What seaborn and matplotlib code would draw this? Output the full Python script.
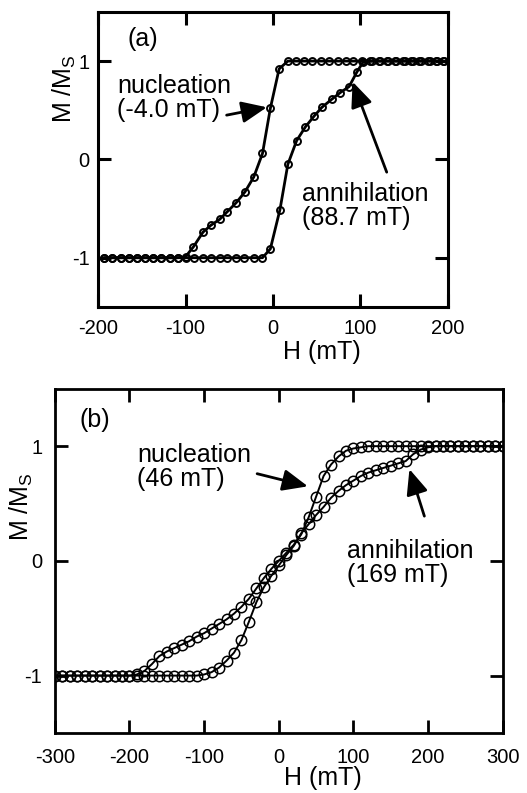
import matplotlib
matplotlib.use("Agg")
import matplotlib.pyplot as plt
import seaborn as sns
import pandas as pd

# ---------------- data: panel (a) ----------------
a_desc_H = [195, 186, 177, 167, 158, 149, 139, 130, 121, 111, 102, 92, 83, 74, 64, 55, 45, 36, 26, 17,
            7, -3, -12, -22, -32, -42, -52, -61, -71, -80, -91, -100,
            -109, -118, -128, -137, -146, -156, -165, -174, -184, -193]
a_desc_M = [1.0, 1.0, 1.0, 1.0, 1.0, 1.0, 1.0, 1.0, 1.0, 1.0, 1.0, 1.0, 1.0, 1.0, 1.0, 1.0, 1.0, 1.0, 1.0, 1.0,
            0.92, 0.52, 0.06, -0.18, -0.33, -0.44, -0.53, -0.61, -0.67, -0.74, -0.89, -0.99,
            -1.0, -1.0, -1.0, -1.0, -1.0, -1.0, -1.0, -1.0, -1.0, -1.0]
a_asc_H = [-193, -184, -174, -165, -156, -146, -137, -128, -118, -109, -99, -90, -80, -71, -61, -52, -42, -33, -22, -12,
           -3, 8, 17, 27, 37, 47, 56, 67, 77, 87, 96, 103,
           113, 122, 132, 141, 151, 160, 169, 179, 188, 194]
a_asc_M = [-1.0, -1.0, -1.0, -1.0, -1.0, -1.0, -1.0, -1.0, -1.0, -1.0, -1.0, -1.0, -1.0, -1.0, -1.0, -1.0, -1.0, -1.0, -1.0, -1.0,
           -0.91, -0.51, -0.05, 0.19, 0.33, 0.44, 0.53, 0.61, 0.68, 0.74, 0.89, 0.99,
           1.0, 1.0, 1.0, 1.0, 1.0, 1.0, 1.0, 1.0, 1.0, 1.0]

# ---------------- data: panel (b) ----------------
b_desc_H = [300, 290, 280, 270, 260, 250, 240, 230, 220, 210, 200, 190, 180, 170, 160, 150, 140, 130,
            120, 110, 100, 90, 80, 70, 60, 50, 40, 30, 20, 10, 0, -10, -20, -30, -40, -50, -60, -70,
            -80, -90, -100, -110, -120, -130, -140, -150, -160, -170, -180, -190,
            -200, -210, -220, -230, -240, -250, -260, -270, -280, -290, -300]
b_desc_M = [1.0, 1.0, 1.0, 1.0, 1.0, 1.0, 1.0, 1.0, 1.0, 1.0, 1.0, 1.0, 1.0, 1.0, 1.0, 1.0, 1.0, 1.0,
            1.0, 0.99, 0.98, 0.96, 0.91, 0.84, 0.74, 0.56, 0.38, 0.23, 0.14, 0.07, 0.0, -0.07, -0.15, -0.24, -0.33, -0.40, -0.46, -0.51,
            -0.55, -0.59, -0.63, -0.66, -0.70, -0.73, -0.76, -0.79, -0.83, -0.90, -0.96, -0.99,
            -1.0, -1.0, -1.0, -1.0, -1.0, -1.0, -1.0, -1.0, -1.0, -1.0, -1.0]
b_asc_H = [-300, -290, -280, -270, -260, -250, -240, -230, -220, -210, -200, -190, -180, -170, -160, -150, -140, -130, -120, -110,
           -100, -90, -80, -70, -60, -50, -40, -30, -20, -10, 0, 10, 20, 30, 40, 50, 60, 70, 80, 90,
           100, 110, 120, 130, 140, 150, 160, 170, 180, 190, 200,
           210, 220, 230, 240, 250, 260, 270, 280, 290, 300]
b_asc_M = [-1.0, -1.0, -1.0, -1.0, -1.0, -1.0, -1.0, -1.0, -1.0, -1.0, -1.0, -1.0, -1.0, -1.0, -1.0, -1.0, -1.0, -1.0, -1.0, -1.0,
           -0.99, -0.97, -0.93, -0.87, -0.80, -0.69, -0.53, -0.36, -0.23, -0.13, -0.04, 0.05, 0.13, 0.24, 0.32, 0.40, 0.47, 0.55, 0.61, 0.66,
           0.70, 0.74, 0.77, 0.79, 0.81, 0.83, 0.85, 0.87, 0.93, 0.97, 0.99,
           1.0, 1.0, 1.0, 1.0, 1.0, 1.0, 1.0, 1.0, 1.0, 1.0]

a_xticks = [-200, -100, 0, 100, 200]
b_xticks = [-300, -200, -100, 0, 100, 200, 300]
yticks = [-1, 0, 1]

sns.set_style("ticks")
plt.rcParams['font.family'] = ['Liberation Sans', 'DejaVu Sans']
plt.rcParams['mathtext.default'] = 'regular'
plt.rcParams['axes.unicode_minus'] = False
plt.rcParams['text.color'] = 'black'
plt.rcParams['axes.labelcolor'] = 'black'
plt.rcParams['xtick.color'] = 'black'
plt.rcParams['ytick.color'] = 'black'

fig = plt.figure(figsize=(5.27, 7.93), dpi=100)
ax_a = fig.add_axes([0.186, 0.613, 0.664, 0.372])
ax_b = fig.add_axes([0.104, 0.0757, 0.850, 0.434])

def branch(ax, H, M, ms, mew, lw):
    df = pd.DataFrame({"H": H, "M": M})
    sns.lineplot(data=df, x="H", y="M", sort=False, estimator=None, ax=ax,
                 color="black", lw=lw, marker="o", markersize=ms,
                 markerfacecolor="none", markeredgecolor="black", markeredgewidth=mew)

branch(ax_a, a_desc_H, a_desc_M, 5, 1.4, 2.0)
branch(ax_a, a_asc_H, a_asc_M, 5, 1.4, 2.0)
branch(ax_b, b_desc_H, b_desc_M, 7.5, 1.1, 1.4)
branch(ax_b, b_asc_H, b_asc_M, 7.5, 1.1, 1.4)

def style(ax, xlim, xticks, pad_x, pad_y, spw):
    ax.set_xlim(*xlim)
    ax.set_ylim(-1.5, 1.5)
    ax.set_xticks(xticks)
    ax.set_xticklabels([str(t) for t in xticks])
    ax.set_yticks(yticks)
    ax.set_yticklabels([str(t) for t in yticks])
    ax.tick_params(direction="in", length=9.5, width=spw, top=True, right=True,
                   labelsize=14.5, colors="black")
    ax.tick_params(axis="x", pad=pad_x)
    ax.tick_params(axis="y", pad=pad_y)
    for s in ax.spines.values():
        s.set_linewidth(spw)
        s.set_color("black")
    ax.set_xlabel("H (mT)", fontsize=18, color="black")
    ax.set_ylabel("M /M$_S$", fontsize=18, color="black")

style(ax_a, (-200, 200), a_xticks, 9, 6, 2.2)
style(ax_b, (-300, 300), b_xticks, 11, 9, 2.0)

ax_a.xaxis.set_label_coords(0.64, -0.112)
ax_a.yaxis.set_label_coords(-0.058, 0.74)
ax_b.xaxis.set_label_coords(0.598, -0.097)
ax_b.yaxis.set_label_coords(-0.045, 0.657)

arrow = dict(arrowstyle="-|>,head_length=0.7,head_width=0.3", color="black", lw=2,
             mutation_scale=22, shrinkA=0, shrinkB=0)

# panel (a) annotations
ax_a.text(-149, 1.22, "(a)", fontsize=18, ha="center", va="center", color="black")
ax_a.text(-178, 0.62, "nucleation\n(-4.0 mT)", fontsize=18, ha="left", va="center", linespacing=1.0, color="black")
ax_a.annotate("", xy=(-7, 0.53), xytext=(-53, 0.45), arrowprops=arrow)
ax_a.text(33, -0.47, "annihilation\n(88.7 mT)", fontsize=18, ha="left", va="center", linespacing=1.0, color="black")
ax_a.annotate("", xy=(91, 0.79), xytext=(130, -0.13), arrowprops=arrow)

# panel (b) annotations
ax_b.text(-246, 1.23, "(b)", fontsize=18, ha="center", va="center", color="black")
ax_b.text(-190, 0.82, "nucleation\n(46 mT)", fontsize=18, ha="left", va="center", linespacing=1.0, color="black")
ax_b.annotate("", xy=(39, 0.65), xytext=(-29, 0.76), arrowprops=arrow)
ax_b.text(92, -0.02, "annihilation\n(169 mT)", fontsize=18, ha="left", va="center", linespacing=1.0, color="black")
ax_b.annotate("", xy=(175, 0.80), xytext=(195, 0.39), arrowprops=arrow)

fig.savefig("out.png", dpi=100)
